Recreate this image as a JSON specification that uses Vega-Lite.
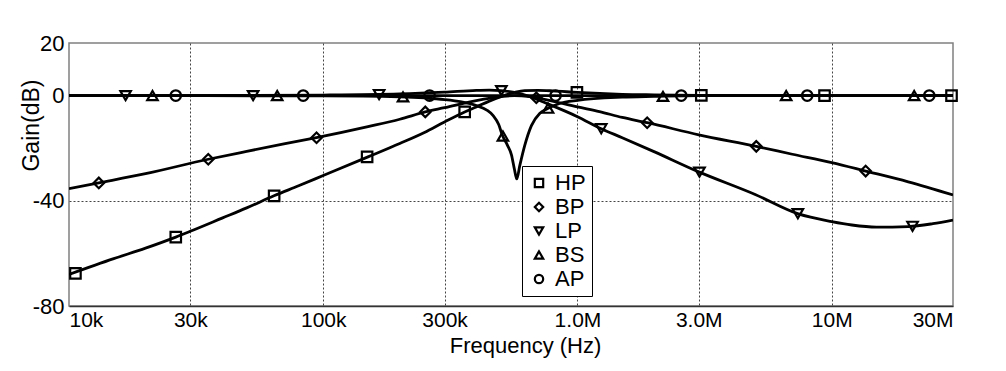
{
  "$schema": "https://vega.github.io/schema/vega-lite/v6.json",
  "width": 884,
  "height": 263,
  "autosize": {"type": "none"},
  "padding": {"left": 69, "top": 43, "right": 53, "bottom": 65},
  "background": "white",
  "datasets": {
    "curves": [
      {"s": "HP", "f": 10000, "g": -68.0}, {"s": "HP", "f": 15000, "g": -62.0}, {"s": "HP", "f": 20000, "g": -58.0},
      {"s": "HP", "f": 26300, "g": -53.8}, {"s": "HP", "f": 30000, "g": -51.6}, {"s": "HP", "f": 40000, "g": -46.6},
      {"s": "HP", "f": 50000, "g": -42.7}, {"s": "HP", "f": 64000, "g": -38.1}, {"s": "HP", "f": 80000, "g": -34.3},
      {"s": "HP", "f": 100000, "g": -30.4}, {"s": "HP", "f": 150000, "g": -23.3}, {"s": "HP", "f": 200000, "g": -18.2},
      {"s": "HP", "f": 250000, "g": -14.0}, {"s": "HP", "f": 300000, "g": -10.0}, {"s": "HP", "f": 360000, "g": -6.2},
      {"s": "HP", "f": 400000, "g": -4.3}, {"s": "HP", "f": 450000, "g": -2.1}, {"s": "HP", "f": 500000, "g": -0.4},
      {"s": "HP", "f": 565000, "g": 1.2}, {"s": "HP", "f": 620000, "g": 1.9}, {"s": "HP", "f": 700000, "g": 2.0},
      {"s": "HP", "f": 800000, "g": 1.8}, {"s": "HP", "f": 1000000, "g": 1.2}, {"s": "HP", "f": 1500000, "g": 0.5},
      {"s": "HP", "f": 2000000, "g": 0.3}, {"s": "HP", "f": 3000000, "g": 0.1}, {"s": "HP", "f": 5000000, "g": 0},
      {"s": "HP", "f": 30000000, "g": 0},

      {"s": "BP", "f": 10000, "g": -35.4}, {"s": "BP", "f": 13100, "g": -33.2}, {"s": "BP", "f": 20000, "g": -29.7},
      {"s": "BP", "f": 35300, "g": -24.2}, {"s": "BP", "f": 50000, "g": -21.2}, {"s": "BP", "f": 70000, "g": -18.4},
      {"s": "BP", "f": 94000, "g": -16.0}, {"s": "BP", "f": 150000, "g": -11.8}, {"s": "BP", "f": 200000, "g": -9.0},
      {"s": "BP", "f": 252000, "g": -6.2}, {"s": "BP", "f": 300000, "g": -4.6}, {"s": "BP", "f": 400000, "g": -1.9},
      {"s": "BP", "f": 500000, "g": -0.4}, {"s": "BP", "f": 565000, "g": 0}, {"s": "BP", "f": 650000, "g": -0.4},
      {"s": "BP", "f": 750000, "g": -1.5}, {"s": "BP", "f": 1000000, "g": -4.3}, {"s": "BP", "f": 1220000, "g": -6.1},
      {"s": "BP", "f": 1500000, "g": -8.3}, {"s": "BP", "f": 1880000, "g": -10.3}, {"s": "BP", "f": 3000000, "g": -14.9},
      {"s": "BP", "f": 5050000, "g": -19.3}, {"s": "BP", "f": 7000000, "g": -22.3}, {"s": "BP", "f": 10000000, "g": -25.5},
      {"s": "BP", "f": 13600000, "g": -28.7}, {"s": "BP", "f": 20000000, "g": -32.8}, {"s": "BP", "f": 30000000, "g": -37.8},

      {"s": "LP", "f": 10000, "g": 0}, {"s": "LP", "f": 30000, "g": 0}, {"s": "LP", "f": 100000, "g": 0.2},
      {"s": "LP", "f": 200000, "g": 0.6}, {"s": "LP", "f": 300000, "g": 1.3}, {"s": "LP", "f": 400000, "g": 2.0},
      {"s": "LP", "f": 450000, "g": 2.1}, {"s": "LP", "f": 500000, "g": 1.9}, {"s": "LP", "f": 565000, "g": 1.2},
      {"s": "LP", "f": 650000, "g": -0.4}, {"s": "LP", "f": 750000, "g": -2.8}, {"s": "LP", "f": 1000000, "g": -8.0},
      {"s": "LP", "f": 1240000, "g": -12.6}, {"s": "LP", "f": 1500000, "g": -16.0}, {"s": "LP", "f": 2000000, "g": -21.3},
      {"s": "LP", "f": 3000000, "g": -29.0}, {"s": "LP", "f": 5000000, "g": -37.6}, {"s": "LP", "f": 7400000, "g": -45.0},
      {"s": "LP", "f": 10000000, "g": -47.9}, {"s": "LP", "f": 12000000, "g": -49.2}, {"s": "LP", "f": 15000000, "g": -50.0},
      {"s": "LP", "f": 20000000, "g": -49.8}, {"s": "LP", "f": 25000000, "g": -48.7}, {"s": "LP", "f": 30000000, "g": -47.3},

      {"s": "BS", "f": 10000, "g": 0}, {"s": "BS", "f": 100000, "g": -0.1}, {"s": "BS", "f": 200000, "g": -0.5},
      {"s": "BS", "f": 250000, "g": -0.9}, {"s": "BS", "f": 300000, "g": -1.5}, {"s": "BS", "f": 350000, "g": -2.4},
      {"s": "BS", "f": 400000, "g": -3.8}, {"s": "BS", "f": 440000, "g": -5.5}, {"s": "BS", "f": 466000, "g": -7.6},
      {"s": "BS", "f": 490000, "g": -11.0}, {"s": "BS", "f": 507000, "g": -15.2}, {"s": "BS", "f": 530000, "g": -18.8},
      {"s": "BS", "f": 550000, "g": -22.5}, {"s": "BS", "f": 565000, "g": -28.0}, {"s": "BS", "f": 577000, "g": -31.7},
      {"s": "BS", "f": 593000, "g": -26.6}, {"s": "BS", "f": 620000, "g": -19.0}, {"s": "BS", "f": 659000, "g": -11.4},
      {"s": "BS", "f": 710000, "g": -6.8}, {"s": "BS", "f": 760000, "g": -5.0}, {"s": "BS", "f": 850000, "g": -3.0},
      {"s": "BS", "f": 1000000, "g": -1.8}, {"s": "BS", "f": 1500000, "g": -0.6}, {"s": "BS", "f": 2000000, "g": -0.3},
      {"s": "BS", "f": 3000000, "g": 0}, {"s": "BS", "f": 30000000, "g": 0},

      {"s": "AP", "f": 10000, "g": 0}, {"s": "AP", "f": 30000000, "g": 0}
    ],
    "markers": [
      {"s": "HP", "f": 10600, "g": -67.6}, {"s": "HP", "f": 26300, "g": -53.8}, {"s": "HP", "f": 64100, "g": -38.1},
      {"s": "HP", "f": 148800, "g": -23.3}, {"s": "HP", "f": 360000, "g": -6.2}, {"s": "HP", "f": 995000, "g": 1.2},
      {"s": "HP", "f": 3070000, "g": 0.1}, {"s": "HP", "f": 9370000, "g": 0}, {"s": "HP", "f": 29600000, "g": 0},
      {"s": "BP", "f": 13100, "g": -33.2}, {"s": "BP", "f": 35300, "g": -24.2}, {"s": "BP", "f": 94100, "g": -16.0},
      {"s": "BP", "f": 252000, "g": -6.2}, {"s": "BP", "f": 689000, "g": -0.8}, {"s": "BP", "f": 1880000, "g": -10.3},
      {"s": "BP", "f": 5050000, "g": -19.3}, {"s": "BP", "f": 13600000, "g": -28.7},
      {"s": "LP", "f": 16700, "g": 0}, {"s": "LP", "f": 53000, "g": 0}, {"s": "LP", "f": 165900, "g": 0.4},
      {"s": "LP", "f": 502000, "g": 1.9}, {"s": "LP", "f": 1240000, "g": -12.6}, {"s": "LP", "f": 3020000, "g": -29.1},
      {"s": "LP", "f": 7360000, "g": -44.9}, {"s": "LP", "f": 20800000, "g": -49.7},
      {"s": "BS", "f": 21300, "g": 0}, {"s": "BS", "f": 65900, "g": 0}, {"s": "BS", "f": 206000, "g": -0.5},
      {"s": "BS", "f": 509000, "g": -15.4}, {"s": "BS", "f": 766000, "g": -4.8}, {"s": "BS", "f": 2170000, "g": -0.3},
      {"s": "BS", "f": 6620000, "g": 0}, {"s": "BS", "f": 21100000, "g": 0},
      {"s": "AP", "f": 26300, "g": 0}, {"s": "AP", "f": 83400, "g": 0}, {"s": "AP", "f": 262000, "g": 0},
      {"s": "AP", "f": 820000, "g": 0}, {"s": "AP", "f": 2560000, "g": 0}, {"s": "AP", "f": 8010000, "g": 0},
      {"s": "AP", "f": 24200000, "g": 0}
    ]
  },
  "encoding": {
    "x": {
      "field": "f", "type": "quantitative",
      "scale": {"type": "log", "domain": [10000, 30000000], "nice": false},
      "axis": {
        "values": [10000, 30000, 100000, 300000, 1000000, 3000000, 10000000, 30000000],
        "labelExpr": "datum.value >= 1e6 ? (datum.value < 1e7 ? format(datum.value / 1e6, '.1f') + 'M' : format(datum.value / 1e6, 'd') + 'M') : format(datum.value / 1e3, 'd') + 'k'",
        "labelFlush": true,
        "labelDx": 5,
        "labelPadding": 3,
        "domain": true,
        "domainColor": "#333333",
        "domainWidth": 1.5,
        "gridOpacity": {"condition": {"test": "datum.value === 10000 || datum.value === 30000000", "value": 0}, "value": 1},
        "title": "Frequency (Hz)",
        "titleX": 456,
        "titleY": 46,
        "titleBaseline": "alphabetic"
      }
    },
    "y": {
      "field": "g", "type": "quantitative",
      "scale": {"domain": [-80, 20], "nice": false, "zero": false},
      "axis": {
        "values": [20, 0, -40, -80],
        "labelExpr": "'' + datum.value",
        "labelFontSize": 22,
        "labelPadding": 5,
        "gridOpacity": {"condition": {"test": "datum.value === 20 || datum.value === -80", "value": 0}, "value": 1},
        "title": "Gain(dB)",
        "titleFontSize": 23,
        "titleAngle": 270,
        "titleX": -38,
        "titleY": 82,
        "titleAlign": "center",
        "titleBaseline": "middle"
      }
    }
  },
  "layer": [
    {
      "data": {"name": "curves"},
      "mark": {"type": "line", "color": "black", "strokeWidth": 2.8, "interpolate": "monotone", "clip": true},
      "encoding": {"detail": {"field": "s", "type": "nominal"}}
    },
    {
      "data": {"name": "markers"},
      "mark": {"type": "point", "filled": false, "stroke": "black", "strokeWidth": 2.2, "size": 110, "opacity": 1},
      "encoding": {
        "shape": {
          "field": "s", "type": "nominal",
          "scale": {"domain": ["HP", "BP", "LP", "BS", "AP"], "range": ["square", "diamond", "triangle-down", "triangle-up", "circle"]},
          "legend": {
            "title": null,
            "orient": "none",
            "legendX": 453,
            "legendY": 123,
            "padding": 6,
            "strokeColor": "black",
            "fillColor": "white",
            "labelFontSize": 22,
            "labelColor": "black",
            "labelOffset": 5,
            "rowPadding": 2,
            "symbolSize": 70,
            "symbolStrokeWidth": 2.2,
            "symbolStrokeColor": "black",
            "symbolFillColor": "transparent",
            "zindex": 2
          }
        }
      }
    }
  ],
  "config": {
    "font": "Liberation Sans",
    "view": {"stroke": "#808080", "strokeWidth": 1.5},
    "axis": {
      "grid": true,
      "gridColor": "#444444",
      "gridDash": [2, 2],
      "gridWidth": 1,
      "ticks": false,
      "domain": false,
      "labelColor": "black",
      "titleColor": "black",
      "labelFontSize": 21,
      "titleFontSize": 22,
      "titleFontWeight": "normal"
    }
  }
}
